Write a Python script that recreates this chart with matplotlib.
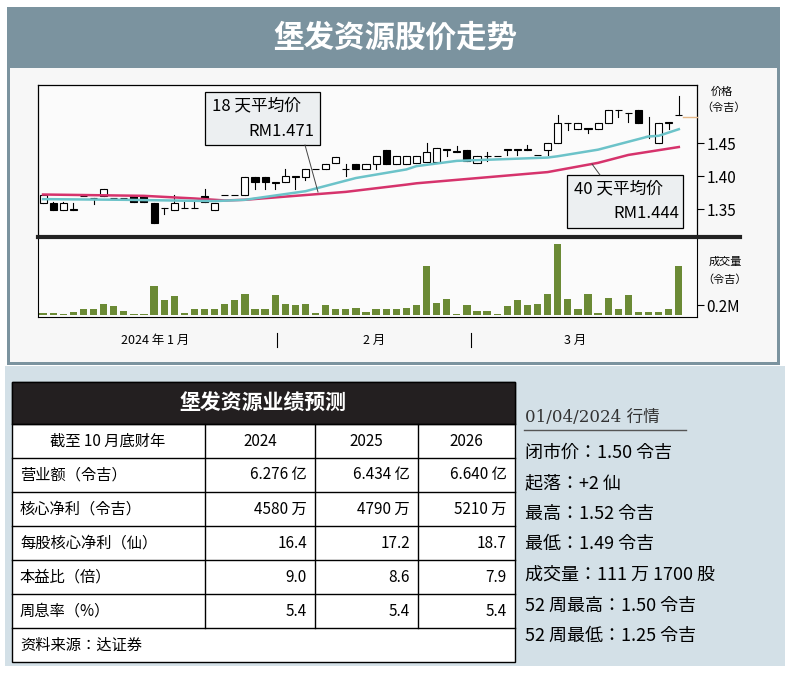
import matplotlib
matplotlib.use("Agg")
import matplotlib.pyplot as plt
from matplotlib.patches import Rectangle

CJK = ["Noto Sans CJK SC", "Noto Sans CJK JP", "Noto Sans CJK TC", "Noto Sans CJK KR"]
plt.rcParams["font.family"] = "sans-serif"
plt.rcParams["font.sans-serif"] = CJK + ["DejaVu Sans"]

W, H = 791, 675

# ---- daily candles (open, high, low, close) ----
opens = [1.359, 1.359, 1.349, 1.349, 1.369, 1.366, 1.370, 1.366, 1.366, 1.370,
         1.370, 1.359, 1.351, 1.349, 1.351, 1.351, 1.370, 1.349, 1.371, 1.371,
         1.371, 1.399, 1.399, 1.390, 1.391, 1.399, 1.399, 1.410, 1.410, 1.420,
         1.410, 1.419, 1.410, 1.419, 1.440, 1.419, 1.419, 1.420, 1.422, 1.422,
         1.440, 1.437, 1.440, 1.420, 1.430, 1.430, 1.440, 1.440, 1.440, 1.432,
         1.440, 1.450, 1.480, 1.472, 1.472, 1.472, 1.481, 1.500, 1.495, 1.500,
         1.460, 1.450, 1.481, 1.492]
highs = [1.372, 1.360, 1.360, 1.359, 1.369, 1.366, 1.381, 1.366, 1.366, 1.370,
         1.370, 1.359, 1.351, 1.371, 1.361, 1.360, 1.381, 1.359, 1.371, 1.371,
         1.399, 1.399, 1.399, 1.390, 1.410, 1.399, 1.410, 1.410, 1.419, 1.429,
         1.419, 1.419, 1.419, 1.430, 1.440, 1.430, 1.430, 1.430, 1.450, 1.442,
         1.440, 1.445, 1.440, 1.430, 1.437, 1.430, 1.440, 1.440, 1.447, 1.432,
         1.450, 1.492, 1.480, 1.480, 1.472, 1.481, 1.500, 1.500, 1.495, 1.500,
         1.490, 1.481, 1.481, 1.522]
lows = [1.359, 1.348, 1.349, 1.349, 1.369, 1.357, 1.370, 1.366, 1.366, 1.361,
        1.361, 1.329, 1.343, 1.349, 1.351, 1.351, 1.361, 1.349, 1.371, 1.371,
        1.371, 1.381, 1.381, 1.380, 1.391, 1.381, 1.394, 1.410, 1.410, 1.420,
        1.400, 1.410, 1.410, 1.410, 1.419, 1.419, 1.419, 1.420, 1.422, 1.422,
        1.430, 1.437, 1.423, 1.420, 1.423, 1.430, 1.432, 1.432, 1.440, 1.432,
        1.432, 1.450, 1.470, 1.472, 1.465, 1.472, 1.481, 1.490, 1.482, 1.481,
        1.457, 1.450, 1.472, 1.492]
closes = [1.371, 1.348, 1.359, 1.349, 1.369, 1.366, 1.380, 1.366, 1.366, 1.361,
          1.361, 1.329, 1.351, 1.359, 1.351, 1.351, 1.361, 1.359, 1.371, 1.371,
          1.399, 1.391, 1.391, 1.390, 1.400, 1.399, 1.410, 1.410, 1.419, 1.429,
          1.410, 1.410, 1.419, 1.430, 1.419, 1.430, 1.430, 1.430, 1.437, 1.442,
          1.440, 1.437, 1.423, 1.430, 1.430, 1.430, 1.440, 1.440, 1.440, 1.432,
          1.450, 1.480, 1.480, 1.480, 1.472, 1.481, 1.500, 1.500, 1.495, 1.481,
          1.460, 1.481, 1.481, 1.492]
volumes = [0.05, 0.05, 0.02, 0.07, 0.13, 0.12, 0.23, 0.19, 0.08, 0.03,
           0.03, 0.59, 0.30, 0.38, 0.05, 0.12, 0.12, 0.12, 0.23, 0.31,
           0.43, 0.12, 0.12, 0.41, 0.23, 0.20, 0.23, 0.04, 0.20, 0.12,
           0.12, 0.15, 0.07, 0.12, 0.12, 0.12, 0.15, 0.20, 0.98, 0.25,
           0.32, 0.03, 0.20, 0.08, 0.08, 0.03, 0.18, 0.30, 0.21, 0.23,
           0.43, 1.42, 0.32, 0.12, 0.43, 0.05, 0.35, 0.12, 0.40, 0.07,
           0.07, 0.07, 0.13, 0.98]

# moving averages, read at sampled days
ma18_x = [0, 8, 17, 20, 26, 28, 31, 36, 37, 41, 50, 51, 55, 60, 61, 63]
ma18_y = [1.365, 1.364, 1.362, 1.364, 1.377, 1.385, 1.397, 1.410, 1.415,
          1.423, 1.428, 1.430, 1.440, 1.460, 1.461, 1.471]
ma40_x = [0, 10, 15, 18, 20, 30, 36, 37, 50, 55, 58, 63]
ma40_y = [1.372, 1.370, 1.366, 1.363, 1.364, 1.376, 1.387, 1.389, 1.406,
          1.420, 1.432, 1.444]

month_labels = ["2024 年 1 月", "2 月", "3 月"]
month_pos = [155, 374, 575]
month_seps = [277, 471]

table_title = "堡发资源业绩预测"
table_cols = ["截至 10 月底财年", "2024", "2025", "2026"]
table_rows = [
    ["营业额（令吉）", "6.276 亿", "6.434 亿", "6.640 亿"],
    ["核心净利（令吉）", "4580 万", "4790 万", "5210 万"],
    ["每股核心净利（仙）", "16.4", "17.2", "18.7"],
    ["本益比（倍）", "9.0", "8.6", "7.9"],
    ["周息率（%）", "5.4", "5.4", "5.4"],
]
source = "资料来源：达证券"

quote_head = "01/04/2024 行情"
quote_lines = ["闭市价：1.50 令吉", "起落：+2 仙", "最高：1.52 令吉", "最低：1.49 令吉",
               "成交量：111 万 1700 股", "52 周最高：1.50 令吉", "52 周最低：1.25 令吉"]


def px_axes(fig, x0, y0, x1, y1):
    return fig.add_axes([x0 / W, 1 - y1 / H, (x1 - x0) / W, (y1 - y0) / H])


fig = plt.figure(figsize=(W / 100, H / 100), dpi=100)
fig.patch.set_facecolor("white")

# background canvas in pixel units
bg = px_axes(fig, 0, 0, W, H)
bg.set_xlim(0, W)
bg.set_ylim(H, 0)
bg.axis("off")
bg.add_patch(Rectangle((7, 7), 773, 358, facecolor="#7b939f", edgecolor="none"))
bg.add_patch(Rectangle((10, 68), 767, 294, facecolor="#f7f7f7", edgecolor="none"))
bg.add_patch(Rectangle((5, 366), 780, 300, facecolor="#d3e0e7", edgecolor="none"))
bg.text(395, 38, "堡发资源股价走势", color="white", fontsize=22, fontweight="bold",
        ha="center", va="center")

# price panel
ax = px_axes(fig, 38, 85, 697, 237)
ax.set_xlim(-0.5, 64.8)
ax.set_ylim(1.3076, 1.538)
ax.set_facecolor("#fbfbfb")
for i, (o, h, l, c) in enumerate(zip(opens, highs, lows, closes)):
    ax.plot([i, i], [l, h], color="black", lw=0.8, zorder=2)
    lo, hi = min(o, c), max(o, c)
    body = max(hi - lo, 0.0006)
    fc = "white" if c >= o else "black"
    ax.add_patch(Rectangle((i - 0.35, lo), 0.7, body, facecolor=fc,
                           edgecolor="black", lw=0.8, zorder=3))
ax.plot(ma40_x, ma40_y, color="#d6336c", lw=1.8, zorder=4)
ax.plot(ma18_x, ma18_y, color="#6cc3c9", lw=1.8, zorder=4)
ax.yaxis.tick_right()
ax.set_yticks([1.35, 1.40, 1.45])
ax.set_yticklabels(["1.35", "1.40", "1.45"])
ax.tick_params(axis="y", length=5, labelsize=11, pad=2)
ax.set_xticks([])
ax.spines["bottom"].set_visible(False)
for s in ["top", "left", "right"]:
    ax.spines[s].set_linewidth(0.9)

# volume panel
vx = px_axes(fig, 38, 237, 697, 317)
vx.set_xlim(-0.5, 64.8)
vx.set_ylim(-0.04, 1.56)
vx.bar(range(len(volumes)), volumes, width=0.72, color="#6b8a35")
vx.yaxis.tick_right()
vx.set_yticks([0.2])
vx.set_yticklabels(["0.2M"])
vx.tick_params(axis="y", length=5, labelsize=11, pad=2)
vx.set_xticks([])
vx.set_facecolor("#fbfbfb")
vx.spines["top"].set_visible(False)

# decorations in pixel space
ov = px_axes(fig, 0, 0, W, H)
ov.set_xlim(0, W)
ov.set_ylim(H, 0)
ov.axis("off")
ov.plot([38, 740], [237, 237], color="#222222", lw=3)
ov.plot([683, 697], [117, 117], color="#e6b98a", lw=1)
ov.text(722, 92, "价格", fontsize=8, ha="center", va="center")
ov.text(724, 108, "（令吉）", fontsize=8, ha="center", va="center")
ov.text(725, 262, "成交量", fontsize=8, ha="center", va="center")
ov.text(725, 280, "（令吉）", fontsize=8, ha="center", va="center")
for lbl, x in zip(month_labels, month_pos):
    ov.text(x, 340, lbl, fontsize=9, ha="center", va="center")
for x in month_seps:
    ov.plot([x, x], [333, 347], color="black", lw=0.8)

ov.plot([305, 318], [145, 192], color="#444444", lw=0.7)
ov.add_patch(Rectangle((205, 92), 115, 53, facecolor="#eceff1", edgecolor="black", lw=0.9))
ov.text(212, 106, "18 天平均价", fontsize=12, va="center")
ov.text(314, 132, "RM1.471", fontsize=12, va="center", ha="right")
ov.plot([600, 592], [175, 164], color="#444444", lw=0.7)
ov.add_patch(Rectangle((567, 175), 116, 53, facecolor="#eceff1", edgecolor="black", lw=0.9))
ov.text(574, 189, "40 天平均价", fontsize=12, va="center")
ov.text(679, 214, "RM1.444", fontsize=12, va="center", ha="right")

# forecast table
ov.add_patch(Rectangle((12, 382), 503, 280, facecolor="white", edgecolor="black", lw=1))
ov.add_patch(Rectangle((12, 382), 503, 42, facecolor="#231f20", edgecolor="black", lw=1))
ov.text(263, 403, table_title, color="white", fontsize=15, fontweight="bold",
        ha="center", va="center")
col_x = [12, 205, 315, 418, 515]
row_h = 34
for r in range(7):
    y = 424 + r * row_h
    ov.plot([12, 515], [y, y], color="black", lw=1)
for x in col_x[1:4]:
    ov.plot([x, x], [424, 424 + 6 * row_h], color="black", lw=1)
ov.text(108, 441, table_cols[0], fontsize=11, ha="center", va="center")
for j in range(1, 4):
    ov.text((col_x[j] + col_x[j + 1]) / 2, 441, table_cols[j], fontsize=11,
            ha="center", va="center")
for r, row in enumerate(table_rows):
    y = 424 + (r + 1) * row_h + row_h / 2
    ov.text(20, y, row[0], fontsize=11, va="center")
    for j in range(1, 4):
        ov.text(col_x[j + 1] - 8, y, row[j], fontsize=11, ha="right", va="center")
ov.text(20, 645, source, fontsize=11, va="center")

# market quote text
ov.text(525, 418, quote_head, fontsize=12, va="center", color="#333333",
        family=["DejaVu Serif"] + CJK)
ov.plot([524, 686], [430, 430], color="#555555", lw=1)
for k, line in enumerate(quote_lines):
    ov.text(525, 453 + k * 30.5, line, fontsize=13, va="center")

fig.savefig("out.png", dpi=100, facecolor=fig.get_facecolor())
